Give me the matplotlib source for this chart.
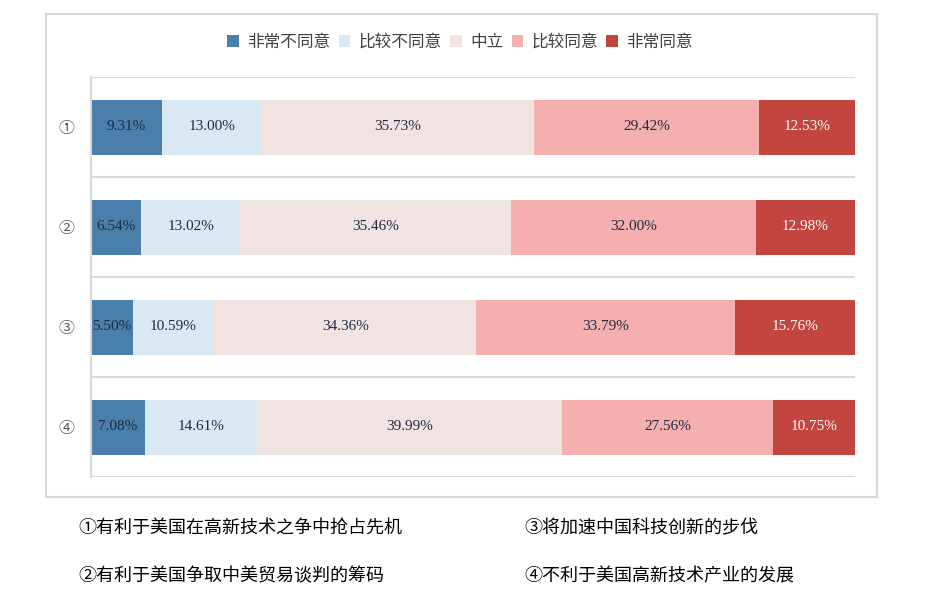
import matplotlib

matplotlib.use("Agg")

import matplotlib.pyplot as plt
from matplotlib.patches import Rectangle
import numpy as np

plt.rcParams["font.family"] = ["Noto Sans CJK SC", "DejaVu Sans"]

categories = ["①", "②", "③", "④"]
levels = ["非常不同意", "比较不同意", "中立", "比较同意", "非常同意"]
shares = {
    "非常不同意": [9.31, 6.54, 5.50, 7.08],
    "比较不同意": [13.00, 13.02, 10.59, 14.61],
    "中立": [35.73, 35.46, 34.36, 39.99],
    "比较同意": [29.42, 32.00, 33.79, 27.56],
    "非常同意": [12.53, 12.98, 15.76, 10.75],
}
notes = [
    "①有利于美国在高新技术之争中抢占先机",
    "③将加速中国科技创新的步伐",
    "②有利于美国争取中美贸易谈判的筹码",
    "④不利于美国高新技术产业的发展",
]

colors = ["#4A7EAB", "#DAE8F4", "#F2E3E3", "#F5AFAF", "#C3453F"]
text_colors = ["#1F2A44", "#1F2A44", "#1F2A44", "#1F2A44", "white"]

fig = plt.figure(figsize=(9.29, 5.93), dpi=100)
fig.patches.append(
    Rectangle((46 / 929, 1 - 497 / 593), (877 - 46) / 929, (497 - 14) / 593,
              transform=fig.transFigure, fill=False, edgecolor="#D9D9D9", linewidth=1.5)
)
ax = fig.add_axes([91 / 929, 1 - 477 / 593, (855 - 91) / 929, 400 / 593])

y = np.arange(len(categories))
left = np.zeros(len(categories))
for level, color, tcolor in zip(levels, colors, text_colors):
    vals = np.array(shares[level])
    ax.barh(y, vals, left=left, height=0.55, color=color, label=level, zorder=2)
    for yi, l, v in zip(y, left, vals):
        ax.text(l + v / 2, yi, f"{v:.2f}%", ha="center", va="center",
                fontsize=11, color=tcolor, family=["Liberation Serif"])
    left += vals

ax.set_xlim(0, 100)
ax.set_ylim(len(categories) - 0.5, -0.5)
ax.set_yticks(y)
ax.set_yticklabels(categories, fontsize=11.5, color="#595959")
ax.tick_params(axis="y", length=0, pad=12)
ax.set_xticks([])
for b in np.arange(-0.5, len(categories), 1.0):
    ax.axhline(b, color="#D9D9D9", linewidth=1.5, zorder=1)
for side in ["top", "right", "bottom"]:
    ax.spines[side].set_visible(False)
ax.spines["left"].set_color("#D9D9D9")
ax.spines["left"].set_linewidth(1.5)

fig.legend(loc="center", bbox_to_anchor=(460 / 929, 1 - 42 / 593), ncol=5, frameon=False,
           fontsize=12, handlelength=0.7, handleheight=0.7, handletextpad=0.5,
           columnspacing=0.5, labelcolor="#404040")

positions = [(78, 528), (524, 528), (78, 576), (524, 576)]
for note, (px, py) in zip(notes, positions):
    fig.text(px / 929, 1 - py / 593, note, ha="left", va="center", fontsize=13, color="black")

fig.savefig("out.png", dpi=100)
